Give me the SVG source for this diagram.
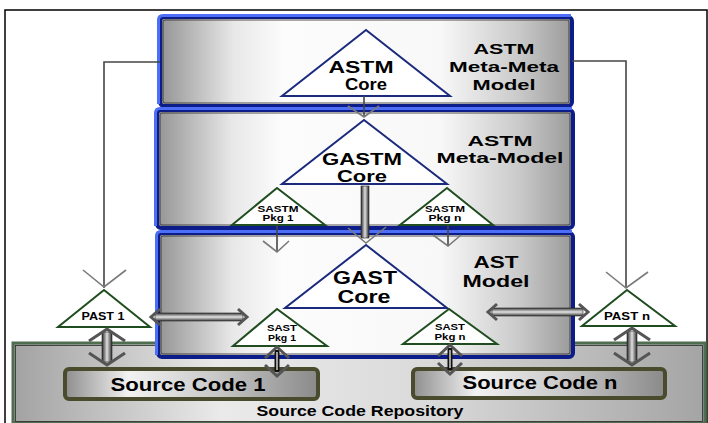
<svg xmlns="http://www.w3.org/2000/svg" width="708" height="423" viewBox="0 0 708 423">
  <defs>
    <linearGradient id="boxGrad" x1="0" y1="0" x2="1" y2="0">
      <stop offset="0" stop-color="#949494"/>
      <stop offset="0.18" stop-color="#e8e8e8"/>
      <stop offset="0.3" stop-color="#fcfcfc"/>
      <stop offset="0.68" stop-color="#f8f8f8"/>
      <stop offset="0.87" stop-color="#cacaca"/>
      <stop offset="1" stop-color="#9a9a9a"/>
    </linearGradient>
    <linearGradient id="repoGrad" x1="0" y1="0" x2="1" y2="0">
      <stop offset="0" stop-color="#a2a2a2"/>
      <stop offset="0.3" stop-color="#eaeaea"/>
      <stop offset="0.6" stop-color="#dadada"/>
      <stop offset="1" stop-color="#a4a4a4"/>
    </linearGradient>
    <linearGradient id="srcGrad" x1="0" y1="0" x2="1" y2="0">
      <stop offset="0" stop-color="#8e8e8e"/>
      <stop offset="0.25" stop-color="#f2f2f2"/>
      <stop offset="0.6" stop-color="#c8c8c8"/>
      <stop offset="1" stop-color="#8a8a8a"/>
    </linearGradient>
    <linearGradient id="tubeH" x1="0" y1="0" x2="0" y2="1">
      <stop offset="0" stop-color="#3a3a3a"/>
      <stop offset="0.5" stop-color="#e4e4e4"/>
      <stop offset="1" stop-color="#3a3a3a"/>
    </linearGradient>
    <linearGradient id="tubeV" x1="0" y1="0" x2="1" y2="0">
      <stop offset="0" stop-color="#2a2a2a"/>
      <stop offset="0.5" stop-color="#e0e0e0"/>
      <stop offset="1" stop-color="#2a2a2a"/>
    </linearGradient>
    <style>
      .frame { fill: #ffffff; stroke: #000000; stroke-width: 1.5; }
      .box { fill: url(#boxGrad); stroke: #0c1d8a; stroke-width: 4; }
      .hl { fill: none; stroke: #4d6ef7; stroke-width: 3; }
      .inner { fill: none; stroke: #2a2a2a; stroke-width: 0.8; }
      .repo { fill: url(#repoGrad); stroke: #4f6e4f; stroke-width: 3; }
      .src { fill: url(#srcGrad); stroke: #4a4a2c; stroke-width: 4; }
      .tri-core { fill: #ffffff; stroke: #1b2a7c; stroke-width: 2; }
      .tri-pkg { fill: #ffffff; stroke: #1f4d1f; stroke-width: 2; }
      .lbl { font-family: "Liberation Sans", Arial, sans-serif; font-weight: bold; fill: #000000; text-anchor: middle; }
      .line { fill: none; stroke: #454545; stroke-width: 1.6; }
      .vee { fill: none; stroke: #7a7a7a; stroke-width: 1.6; }
      .chev { fill: none; stroke: #555555; stroke-width: 3; stroke-linejoin: miter; }
      .tubeh { fill: url(#tubeH); stroke: #222222; stroke-width: 0.6; }
      .tubev { fill: url(#tubeV); stroke: #222222; stroke-width: 0.6; }
    </style>
  </defs>

  <!-- page frame -->
  <rect class="frame" x="5" y="10" width="702" height="416"/>

  <!-- repository and the two source code boxes -->
  <g id="source-code-repository">
    <rect class="repo" x="13" y="343" width="692" height="80"/>
    <rect class="inner" x="15.5" y="345.5" width="687" height="76"/>
    <text class="lbl" x="360" y="416" font-size="15" textLength="207" lengthAdjust="spacingAndGlyphs">Source Code Repository</text>
  </g>
  <g id="source-code-1">
    <rect class="src" x="65" y="369" width="253" height="30" rx="4"/>
    <text class="lbl" x="188" y="391" font-size="19" textLength="155" lengthAdjust="spacingAndGlyphs">Source Code 1</text>
  </g>
  <g id="source-code-n">
    <rect class="src" x="413" y="369" width="252" height="29" rx="4"/>
    <text class="lbl" x="540" y="389" font-size="19" textLength="155" lengthAdjust="spacingAndGlyphs">Source Code n</text>
  </g>

  <!-- the three model layers -->
  <g id="astm-meta-meta-model">
    <rect class="box" x="160" y="17" width="412" height="89" rx="4"/>
    <path class="hl" d="M158.5,104 V20 Q158.5,15.5 163,15.5 H571"/>
    <rect class="inner" x="163" y="20" width="406" height="83" rx="2"/>
    <text class="lbl" x="504" y="54" font-size="15.5" textLength="61" lengthAdjust="spacingAndGlyphs">ASTM</text>
    <text class="lbl" x="504" y="72" font-size="15.5" textLength="110" lengthAdjust="spacingAndGlyphs">Meta-Meta</text>
    <text class="lbl" x="504" y="90" font-size="15.5" textLength="63" lengthAdjust="spacingAndGlyphs">Model</text>
  </g>
  <g id="astm-meta-model">
    <rect class="box" x="157" y="110" width="416" height="118" rx="4"/>
    <path class="hl" d="M155.5,226 V113 Q155.5,108.5 160,108.5 H572"/>
    <rect class="inner" x="160" y="113" width="410" height="112" rx="2"/>
    <text class="lbl" x="500" y="146" font-size="15.5" textLength="65" lengthAdjust="spacingAndGlyphs">ASTM</text>
    <text class="lbl" x="500" y="163" font-size="15.5" textLength="127" lengthAdjust="spacingAndGlyphs">Meta-Model</text>
  </g>
  <g id="ast-model">
    <rect class="box" x="158" y="233" width="415" height="124" rx="4"/>
    <path class="hl" d="M156.5,355 V236 Q156.5,231.5 161,231.5 H572"/>
    <rect class="inner" x="161" y="236" width="409" height="118" rx="2"/>
    <text class="lbl" x="496" y="268" font-size="16.5" textLength="45" lengthAdjust="spacingAndGlyphs">AST</text>
    <text class="lbl" x="496" y="287" font-size="16.5" textLength="67" lengthAdjust="spacingAndGlyphs">Model</text>
  </g>

  <!-- core triangles -->
  <g id="astm-core">
    <polygon class="tri-core" points="366,30 282,96 450,96"/>
    <text class="lbl" x="361" y="73" font-size="16" textLength="65" lengthAdjust="spacingAndGlyphs">ASTM</text>
    <text class="lbl" x="366" y="90" font-size="16" textLength="42" lengthAdjust="spacingAndGlyphs">Core</text>
  </g>
  <g id="gastm-core">
    <polygon class="tri-core" points="364,120 282,184 447,184"/>
    <text class="lbl" x="362" y="165" font-size="16" textLength="80" lengthAdjust="spacingAndGlyphs">GASTM</text>
    <text class="lbl" x="362" y="182" font-size="16" textLength="50" lengthAdjust="spacingAndGlyphs">Core</text>
  </g>
  <g id="gast-core">
    <polygon class="tri-core" points="366,245 285,308 447,308"/>
    <text class="lbl" x="365" y="284" font-size="18" textLength="64" lengthAdjust="spacingAndGlyphs">GAST</text>
    <text class="lbl" x="364" y="303" font-size="18" textLength="53" lengthAdjust="spacingAndGlyphs">Core</text>
  </g>

  <!-- package triangles -->
  <g id="sastm-pkg-1">
    <polygon class="tri-pkg" points="277,188 232,225 325,225"/>
    <text class="lbl" x="278" y="212" font-size="8.5" textLength="41" lengthAdjust="spacingAndGlyphs">SASTM</text>
    <text class="lbl" x="278" y="221" font-size="8.5" textLength="31" lengthAdjust="spacingAndGlyphs">Pkg 1</text>
  </g>
  <g id="sastm-pkg-n">
    <polygon class="tri-pkg" points="447,188 400,225 493,225"/>
    <text class="lbl" x="445" y="212" font-size="8.5" textLength="40" lengthAdjust="spacingAndGlyphs">SASTM</text>
    <text class="lbl" x="445" y="221" font-size="8.5" textLength="33" lengthAdjust="spacingAndGlyphs">Pkg n</text>
  </g>
  <g id="sast-pkg-1">
    <polygon class="tri-pkg" points="277,309 233,346 327,346"/>
    <text class="lbl" x="282" y="331" font-size="9" textLength="30" lengthAdjust="spacingAndGlyphs">SAST</text>
    <text class="lbl" x="282" y="341" font-size="9" textLength="28" lengthAdjust="spacingAndGlyphs">Pkg 1</text>
  </g>
  <g id="sast-pkg-n">
    <polygon class="tri-pkg" points="449,309 403,344 497,344"/>
    <text class="lbl" x="450" y="330" font-size="9" textLength="30" lengthAdjust="spacingAndGlyphs">SAST</text>
    <text class="lbl" x="450" y="340" font-size="9" textLength="31" lengthAdjust="spacingAndGlyphs">Pkg n</text>
  </g>
  <g id="past-1">
    <polygon class="tri-pkg" points="104,290 58,327 150,327"/>
    <text class="lbl" x="103" y="320" font-size="10.5" textLength="43" lengthAdjust="spacingAndGlyphs">PAST 1</text>
  </g>
  <g id="past-n">
    <polygon class="tri-pkg" points="627,290 582,326 675,326"/>
    <text class="lbl" x="627" y="320" font-size="10.5" textLength="46" lengthAdjust="spacingAndGlyphs">PAST n</text>
  </g>

  <!-- connectors -->
  <g id="connectors">
    <!-- meta-meta model to the platform ASTs -->
    <polyline class="line" points="160,62 104,62 104,288"/>
    <polyline class="vee" points="83,270 104,287 126,270"/>
    <polyline class="line" points="572,61 626,61 626,288"/>
    <polyline class="vee" points="606,272 626,288 648,272"/>

    <!-- core to core -->
    <line class="line" x1="364" y1="96" x2="364" y2="117"/>
    <polyline class="vee" points="348,106 364,117 379,106"/>
    <rect class="tubev" x="361" y="186" width="8" height="52"/>
    <polyline class="vee" points="348,228 366,243 386,227"/>

    <!-- SASTM packages down to the AST layer -->
    <line class="line" x1="277" y1="225" x2="277" y2="252"/>
    <polyline class="vee" points="263,241 277,252 289,241"/>
    <line class="line" x1="448" y1="225" x2="448" y2="246"/>
    <polyline class="vee" points="433,235 448,246 461,235"/>

    <!-- PAST to SAST links -->
    <rect class="tubeh" x="155" y="313" width="88" height="8"/>
    <polyline class="chev" points="160,309 151,317 160,325"/>
    <polyline class="chev" points="238,309 247,317 238,325"/>
    <rect class="tubeh" x="492" y="308" width="91" height="8"/>
    <polyline class="chev" points="497,304 488,312 497,320"/>
    <polyline class="chev" points="579,304 588,312 579,320"/>

    <!-- PAST to repository -->
    <rect class="tubev" x="102" y="332" width="10" height="30"/>
    <polyline class="chev" points="89,341 107,329 125,341"/>
    <polyline class="chev" points="89,353 107,365 125,353"/>
    <rect class="tubev" x="627" y="331" width="10" height="31"/>
    <polyline class="chev" points="614,340 632,328 650,340"/>
    <polyline class="chev" points="614,353 632,365 650,353"/>

    <!-- SAST packages to source code -->
    <rect x="274.5" y="350" width="5" height="22" fill="#111111"/>
    <line x1="277" y1="352" x2="277" y2="370" stroke="#ffffff" stroke-width="1.2"/>
    <polyline class="chev" points="265,358 277,347 289,358" stroke-width="2"/>
    <polyline class="chev" points="265,365 277,376 289,365" stroke-width="2"/>
    <rect x="447.5" y="348" width="5" height="22" fill="#111111"/>
    <line x1="450" y1="350" x2="450" y2="368" stroke="#ffffff" stroke-width="1.2"/>
    <polyline class="chev" points="438,356 450,345 462,356" stroke-width="2"/>
    <polyline class="chev" points="438,363 450,374 462,363" stroke-width="2"/>
  </g>
</svg>
